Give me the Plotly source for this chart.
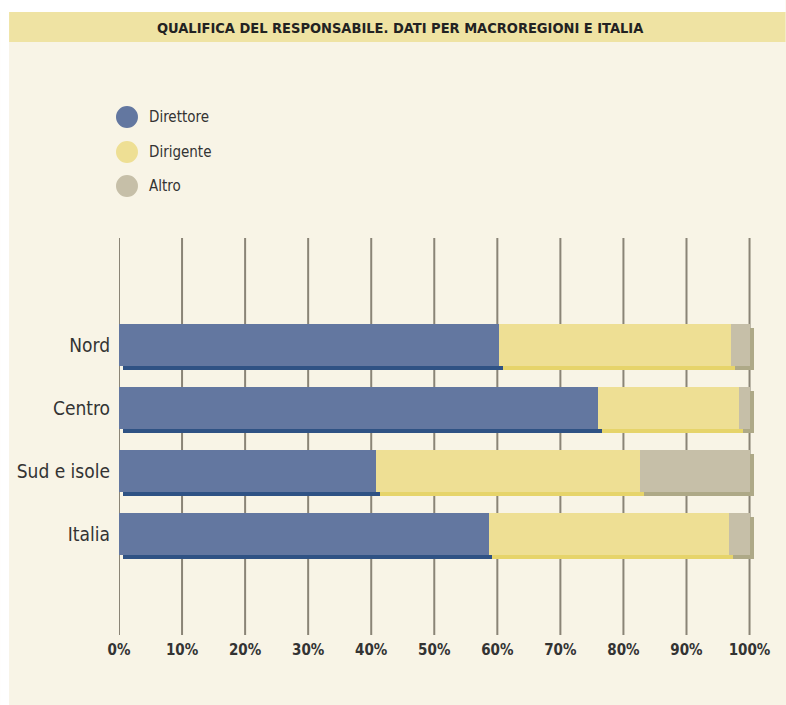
import plotly.graph_objects as go

categories = ["Nord", "Centro", "Sud e isole", "Italia"]
series_names = ["Direttore", "Dirigente", "Altro"]
direttore = [60.2, 75.9, 40.7, 58.6]
dirigente = [36.9, 22.5, 41.9, 38.2]
altro = [2.9, 1.6, 17.4, 3.2]
tick_vals = [0, 10, 20, 30, 40, 50, 60, 70, 80, 90, 100]
tick_text = ["0%", "10%", "20%", "30%", "40%", "50%", "60%", "70%", "80%", "90%", "100%"]
title_text = "QUALIFICA DEL RESPONSABILE. DATI PER MACROREGIONI E ITALIA"

main_colors = ["#6377a0", "#eedf94", "#c6bfa8"]
shadow_colors = ["#2f5284", "#e6d46a", "#aea987"]

W, H = 786, 705
px_per_unit = 6.31
xr = [0, 101.5]
L, T, B = 119, 238, 70
plot_w = (xr[1] - xr[0]) * px_per_unit
R = W - L - plot_w
plot_h = H - T - B

ypos = list(range(len(categories)))[::-1]  # Nord at top
yr = [-1.6, 4.7]
dx_px, dy_px = 4, 4
dx = dx_px / px_per_unit
dy = dy_px * (yr[1] - yr[0]) / plot_h

FONT = "Liberation Sans Narrow, DejaVu Sans Condensed, Arial Narrow, sans-serif"

fig = go.Figure()
values = [direttore, dirigente, altro]

for vals, col in zip(values, shadow_colors):
    fig.add_trace(go.Bar(y=ypos, x=vals, orientation="h", marker=dict(color=col, line=dict(width=0)),
                         width=0.667, showlegend=False, hoverinfo="skip",
                         xaxis="x", yaxis="y"))
for name, vals, col in zip(series_names, values, main_colors):
    fig.add_trace(go.Bar(y=ypos, x=vals, orientation="h", name=name,
                         marker=dict(color=col, line=dict(width=0)),
                         width=0.667, showlegend=False, xaxis="x2", yaxis="y2"))

fig.update_layout(
    width=W, height=H,
    margin=dict(l=L, r=R, t=T, b=B),
    paper_bgcolor="#f8f4e6",
    plot_bgcolor="rgba(0,0,0,0)",
    barmode="stack",
    bargap=0.333,
    font=dict(family=FONT, color="#333333"),
    xaxis=dict(range=[xr[0] - dx, xr[1] - dx], showgrid=False, showticklabels=False,
               zeroline=False, showline=False, ticks=""),
    yaxis=dict(range=[yr[0] + dy, yr[1] + dy], showgrid=False, showticklabels=False,
               zeroline=False, showline=False, ticks=""),
    xaxis2=dict(range=xr, overlaying="x", side="bottom", tickvals=tick_vals, ticktext=tick_text,
                showgrid=False, zeroline=False, showline=False, ticks="", ticklabelstandoff=4,
                tickfont=dict(family=FONT, size=15, color="#333333", weight="bold"), anchor="y2"),
    yaxis2=dict(range=yr, overlaying="y", tickvals=ypos, ticktext=categories,
                showgrid=False, zeroline=False, showline=False, ticks="", ticklabelstandoff=8,
                tickfont=dict(family=FONT, size=19, color="#333333"), anchor="x2"),
    showlegend=False,
)

shapes = []
shapes.append(dict(type="rect", xref="paper", yref="paper", layer="below",
                   x0=-L / plot_w, x1=(-L + 9) / plot_w, y0=-B / plot_h, y1=(plot_h + T) / plot_h,
                   fillcolor="white", line=dict(width=0)))
shapes.append(dict(type="rect", xref="paper", yref="paper", layer="below",
                   x0=-L / plot_w, x1=(W - L) / plot_w, y0=(plot_h + T - 12) / plot_h, y1=(plot_h + T) / plot_h,
                   fillcolor="white", line=dict(width=0)))
shapes.append(dict(type="rect", xref="paper", yref="paper", layer="below",
                   x0=(9 - L) / plot_w, x1=(W - L) / plot_w, y0=(plot_h + T - 42) / plot_h, y1=(plot_h + T - 12) / plot_h,
                   fillcolor="#efe3a3", line=dict(width=0)))
for v in tick_vals:
    shapes.append(dict(type="line", xref="x2", yref="paper", layer="below",
                       x0=v, x1=v, y0=0, y1=1, line=dict(color="#8a8476", width=2)))
leg_y = [117, 152, 186]
for yy, col in zip(leg_y, main_colors):
    cx = 127
    r = 11
    shapes.append(dict(type="circle", xref="paper", yref="paper",
                       x0=(cx - r - L) / plot_w, x1=(cx + r - L) / plot_w,
                       y0=(H - B - (yy + r)) / plot_h, y1=(H - B - (yy - r)) / plot_h,
                       fillcolor=col, line=dict(width=0)))

annotations = [dict(text="<b>" + title_text + "</b>", xref="paper", yref="paper",
                    x=(401 - L) / plot_w, y=(H - B - 28) / plot_h, showarrow=False,
                    xanchor="center", yanchor="middle",
                    font=dict(family=FONT, size=14.5, color="#222222"))]
for yy, name in zip(leg_y, series_names):
    annotations.append(dict(text=name, xref="paper", yref="paper",
                            x=(147 - L) / plot_w, y=(H - B - yy) / plot_h, showarrow=False,
                            xanchor="left", yanchor="middle",
                            font=dict(family=FONT, size=15, color="#333333")))

fig.update_layout(shapes=shapes, annotations=annotations)
fig.write_html("out.html", config={"displayModeBar": False},
               post_script="document.body.style.margin='0';document.body.style.padding='0';")
